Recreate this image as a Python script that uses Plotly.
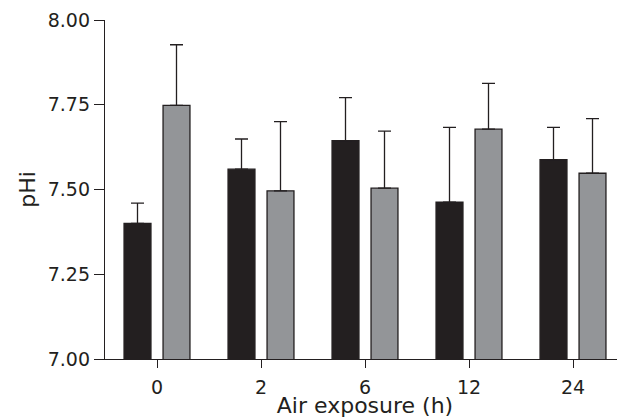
import plotly.graph_objects as go

categories = ["0", "2", "6", "12", "24"]
black_vals = [7.40, 7.56, 7.644, 7.463, 7.588]
black_err = [0.06, 0.089, 0.127, 0.220, 0.095]
grey_vals = [7.748, 7.496, 7.504, 7.678, 7.548]
grey_err = [0.179, 0.204, 0.168, 0.135, 0.161]
y_ticks = [7.00, 7.25, 7.50, 7.75, 8.00]

DARK = "#231f20"
GREY = "#939598"
FONT = "DejaVu Sans"

fig = go.Figure()
for vals, errs, color in [(black_vals, black_err, DARK), (grey_vals, grey_err, GREY)]:
    fig.add_trace(go.Bar(
        x=categories, y=vals,
        marker=dict(color=color, line=dict(color=DARK, width=1.3)),
        error_y=dict(type="data", symmetric=False, array=errs,
                     arrayminus=[0] * len(errs), width=6.5,
                     thickness=1.3, color=DARK),
        showlegend=False,
    ))

# page body adds an 8px offset; the figure is sized to compensate
fig.update_layout(
    width=617, height=410,
    margin=dict(l=97, r=0, t=11.7, b=59.3),
    paper_bgcolor="white", plot_bgcolor="white",
    barmode="group", bargap=0.25, bargroupgap=0.31,
    font=dict(family=FONT, size=19, color=DARK),
)
fig.update_xaxes(
    type="category", range=[-0.5, 4.5],
    showline=True, linecolor=DARK, linewidth=1.3,
    ticks="outside", ticklen=8, tickwidth=1.3, tickcolor=DARK,
    ticklabelstandoff=3,
    showgrid=False, zeroline=False,
    tickfont=dict(family=FONT, size=19, color=DARK),
    title=dict(text="Air exposure (h)", font=dict(family=FONT, size=22, color=DARK), standoff=5),
)
fig.update_yaxes(
    range=[7, 8], tickvals=y_ticks, ticktext=[f"{v:.2f}" for v in y_ticks],
    showline=True, linecolor=DARK, linewidth=1.3,
    ticks="outside", ticklen=10, tickwidth=1.3, tickcolor=DARK,
    showgrid=False, zeroline=False,
    tickfont=dict(family=FONT, size=19, color=DARK),
    title=dict(text="pHi", font=dict(family=FONT, size=22, color=DARK), standoff=6),
)
fig.write_html("out.html")
